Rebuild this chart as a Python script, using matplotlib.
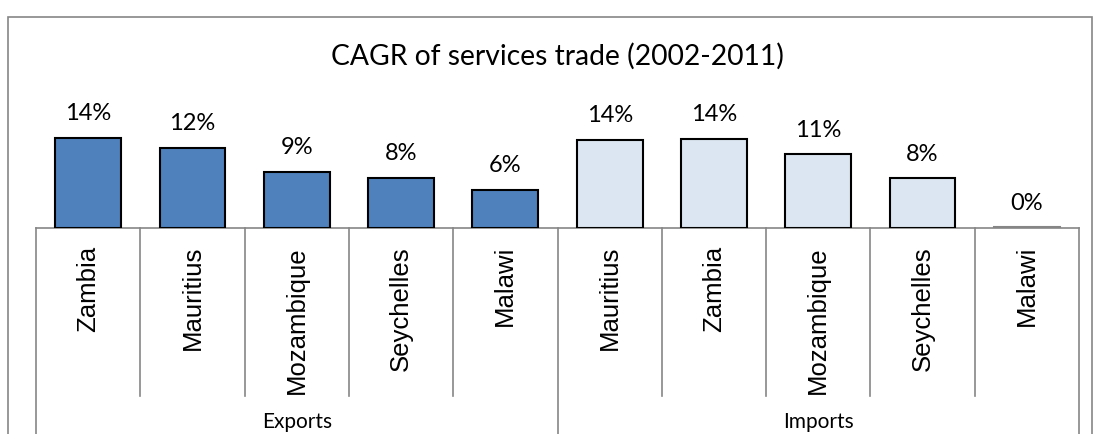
import numpy as np
import matplotlib
matplotlib.use('Agg')
import matplotlib.pyplot as plt
from matplotlib.patches import Rectangle
from matplotlib.transforms import blended_transform_factory

# data
groups = ['Exports', 'Imports']
export_countries = ['Zambia', 'Mauritius', 'Mozambique', 'Seychelles', 'Malawi']
export_cagr = [0.140, 0.124, 0.087, 0.078, 0.059]
import_countries = ['Mauritius', 'Zambia', 'Mozambique', 'Seychelles', 'Malawi']
import_cagr = [0.137, 0.138, 0.114, 0.077, 0.001]

W, H = 1100, 435
fig = plt.figure(figsize=(W / 100, H / 100), dpi=100)

# pixel layout of the plot area
x0, x1 = 36, 1079
y_base, y_top = 229, 99
ax = fig.add_axes([x0 / W, 1 - y_base / H, (x1 - x0) / W, (y_base - y_top) / H])
ax_h = y_base - y_top

def yfrac(ypx):
    # pixel row -> axes fraction
    return (y_base - ypx) / ax_h

calibri = ['Lato', 'DejaVu Sans']
arial = ['Liberation Sans', 'DejaVu Sans']
grey = '#868686'

n_exp = len(export_countries)
cats = export_countries + import_countries
vals = export_cagr + import_cagr
xs = np.arange(len(cats))
colors = ['#4F81BD'] * n_exp + ['#DCE6F2'] * len(import_countries)
edges = ['black' if v > 0.005 else grey for v in vals]

ax.bar(xs, vals, width=0.63, color=colors, edgecolor=edges, linewidth=1.5, zorder=3)
ax.set_xlim(-0.5, len(cats) - 0.5)
ax.set_ylim(0, ax_h / 6.45 / 100)
ax.axis('off')

for x, v in zip(xs, vals):
    ax.annotate('{:.0%}'.format(v), (x, v), xytext=(0, 10.5), textcoords='offset points',
                ha='center', va='bottom', fontsize=17, family=calibri)

# category axis drawn as an Excel style multi-level table
tr = blended_transform_factory(ax.transData, ax.transAxes)
ax.plot([-0.5, len(cats) - 0.5], [0, 0], transform=tr, color=grey, lw=1.2, clip_on=False)
for b in np.arange(-0.5, len(cats), 1.0):
    outer = b in (-0.5, n_exp - 0.5, len(cats) - 0.5)
    ax.plot([b, b], [0, yfrac(H + 5) if outer else yfrac(397)], transform=tr,
            color=grey, lw=1.2, clip_on=False)
for x, c in zip(xs, cats):
    ax.text(x, yfrac(246), c, transform=tr, rotation=90, ha='center', va='top',
            fontsize=18.5, family=arial)
for i, g in enumerate(groups):
    ax.text(n_exp * i + (n_exp - 1) / 2, yfrac(422), g, transform=tr,
            ha='center', va='center', fontsize=15, family=calibri)

fig.text(557 / W, 1 - 56 / H, 'CAGR of services trade (2002-2011)', ha='center', va='center',
         fontsize=20.3, family=calibri)

# chart border
fig.patches.append(Rectangle((8 / W, -0.05), 1084 / W, 1 - 18 / H + 0.05, transform=fig.transFigure,
                             fill=False, edgecolor=grey, lw=1.2))

fig.savefig('out.png', dpi=100)
